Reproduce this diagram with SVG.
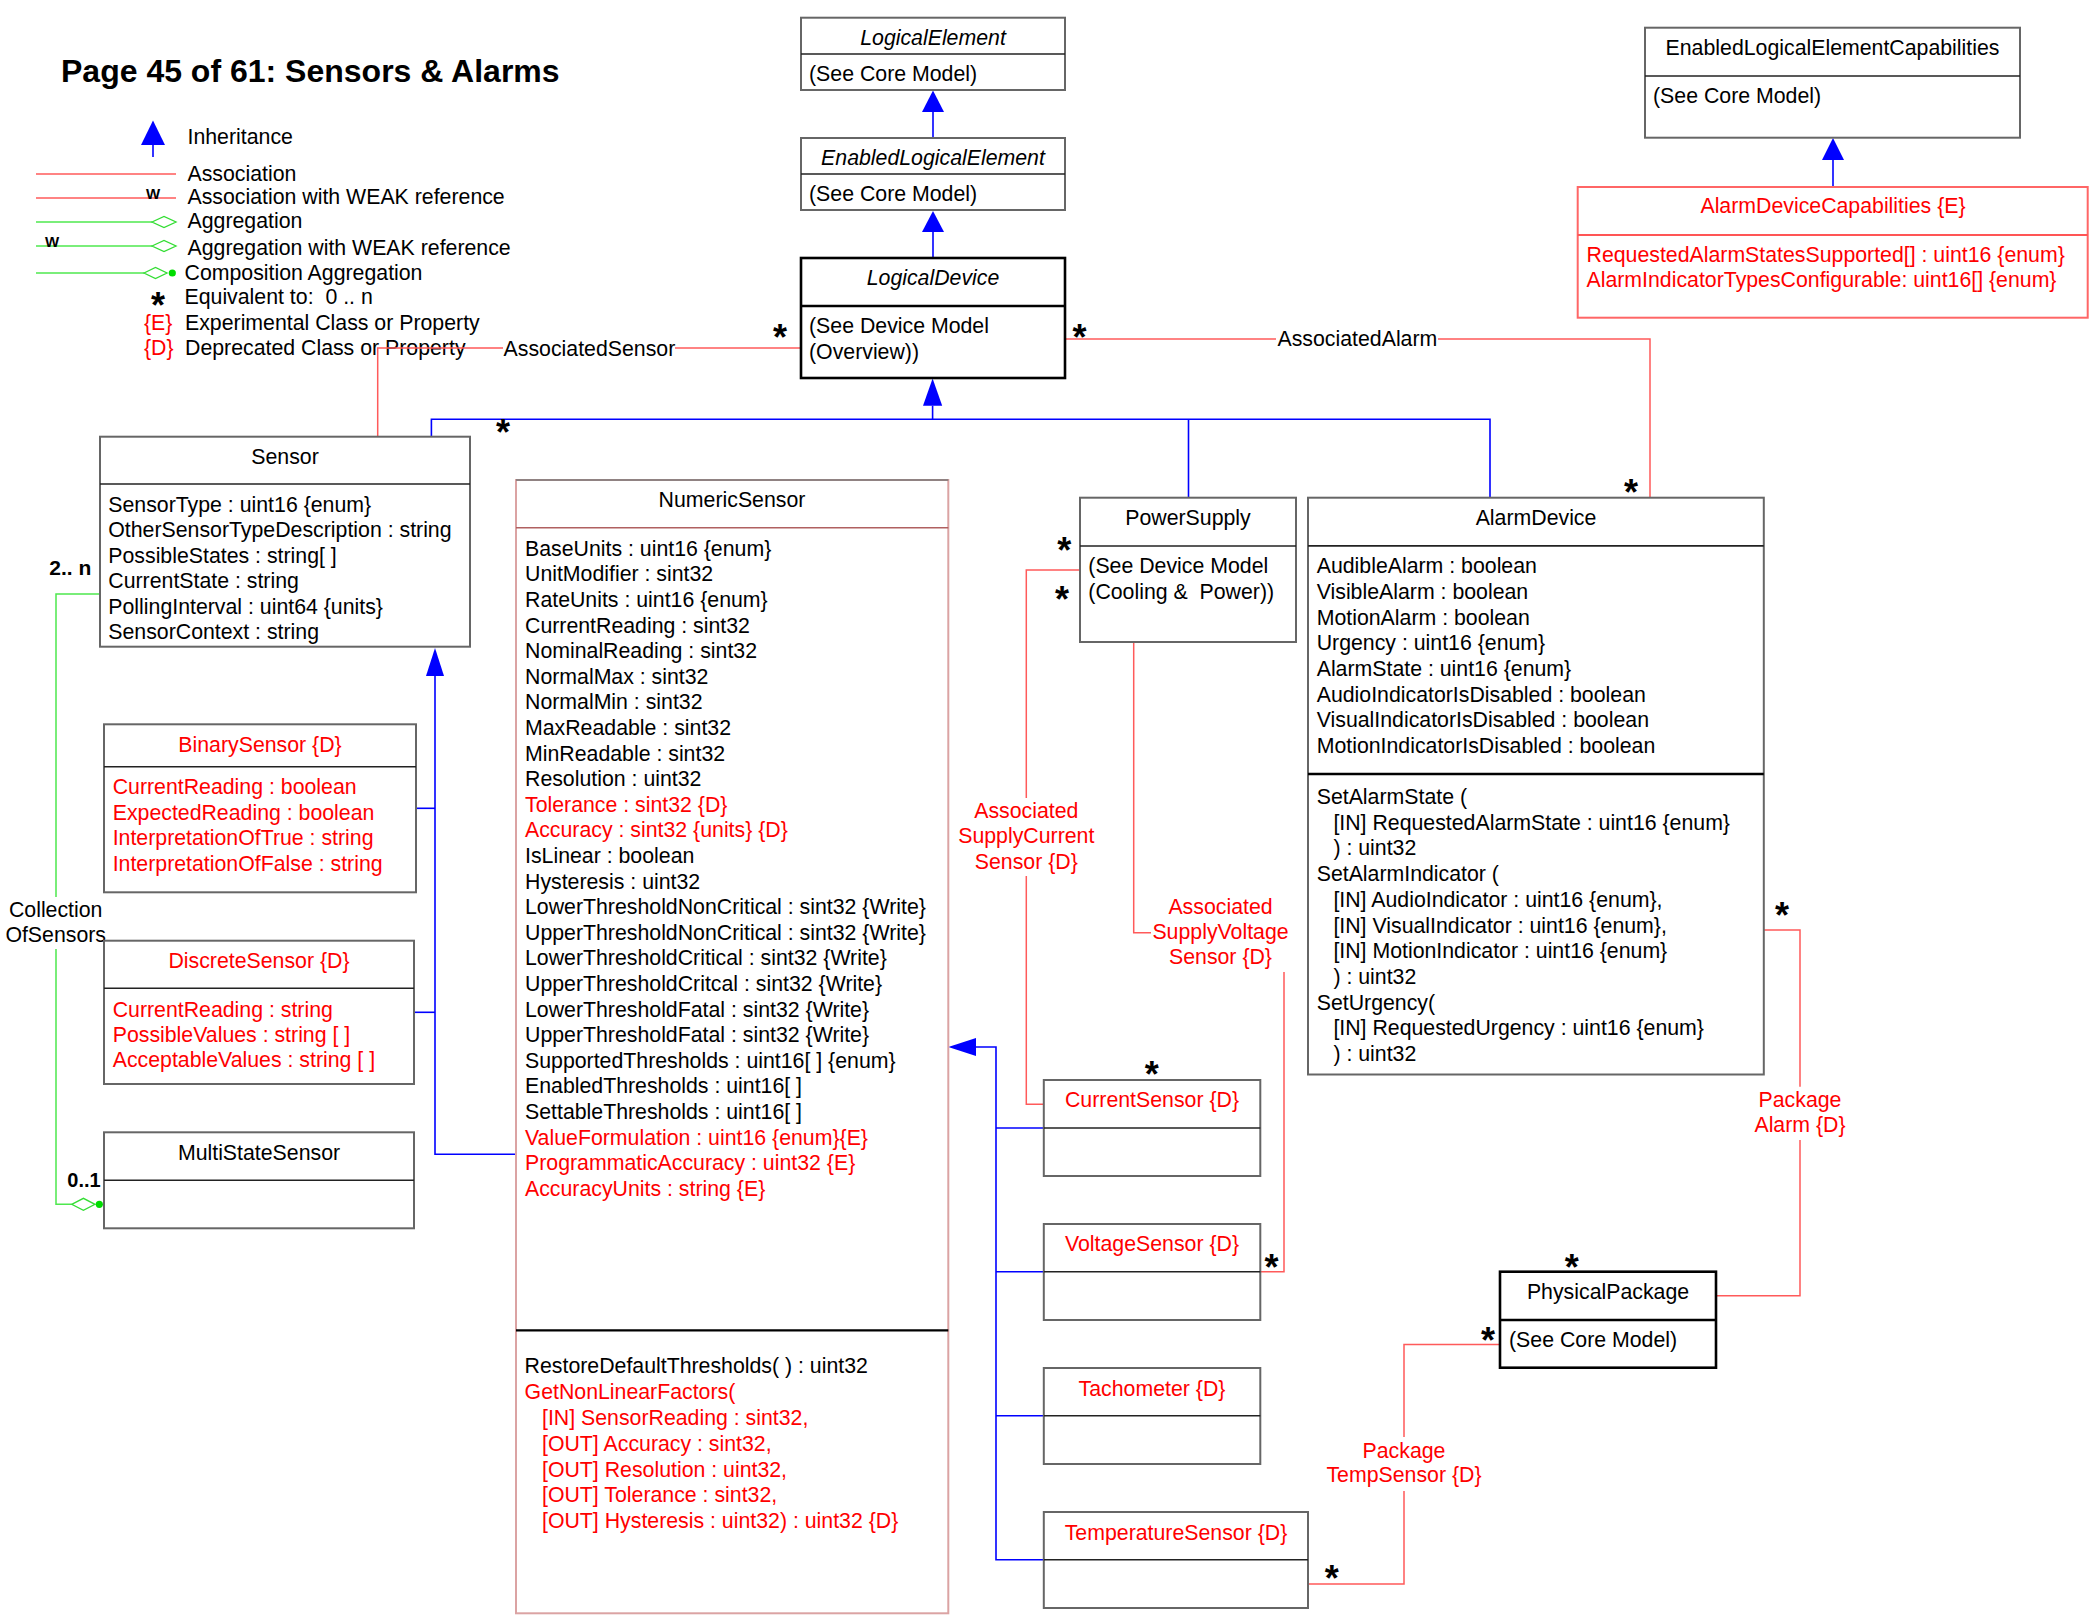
<svg xmlns="http://www.w3.org/2000/svg" width="2093" height="1617" viewBox="0 0 2093 1617">
<style>
text { font-family: "Liberation Sans", Arial, sans-serif; font-size: 21.3px; fill: #000; }
.r { fill: #ff0000; }
.c { text-anchor: middle; }
.i { font-style: italic; }
.title { font-size: 32px; font-weight: bold; }
.ast { font-size: 36px; font-weight: bold; text-anchor: middle; }
.b { font-weight: bold; }
.box { fill: #fff; stroke: #666; stroke-width: 2; }
.bold { fill: #fff; stroke: #000; stroke-width: 2.6; }
.rbox { fill: #fff; stroke: #ff6666; stroke-width: 2; }
.nbox { fill: #fff; stroke: #dba3a3; stroke-width: 2; }
.dv { stroke: #222; stroke-width: 1.6; fill: none; }
.dvb { stroke: #000; stroke-width: 2.6; fill: none; }
.dvr { stroke: #ff5555; stroke-width: 2; fill: none; }
.bl { stroke: #0000ff; stroke-width: 1.6; fill: none; }
.rd { stroke: #ff5a5a; stroke-width: 1.5; fill: none; }
.gr { stroke: #4ee84e; stroke-width: 1.5; fill: none; }
.ah { fill: #0000ff; stroke: none; }
.dia { fill: #fff; stroke: #33dd33; stroke-width: 1.3; }
.dot { fill: #00dd00; }
</style>

<g id="title">
<text class="title" x="61" y="82">Page 45 of 61: Sensors &amp; Alarms</text>
</g>

<g id="legend">
<line class="bl" x1="153" y1="145" x2="153" y2="157"/>
<polygon class="ah" points="153,120.5 141,145 165,145"/>
<text x="187.5" y="144">Inheritance</text>
<line class="rd" x1="36" y1="174" x2="176" y2="174"/>
<text x="187.5" y="180.5">Association</text>
<line class="rd" x1="36" y1="198" x2="176" y2="198"/>
<text class="b" x="146" y="199" style="font-size:15px">W</text>
<text x="187.5" y="204">Association with WEAK reference</text>
<line class="gr" x1="36" y1="222" x2="152" y2="222"/>
<polygon class="dia" points="152,222 164,216.5 176,222 164,227.5"/>
<text x="187.5" y="228">Aggregation</text>
<line class="gr" x1="36" y1="246" x2="152" y2="246"/>
<text class="b" x="45" y="246.5" style="font-size:15px">W</text>
<polygon class="dia" points="152,246 164,240.5 176,246 164,251.5"/>
<text x="187.5" y="255">Aggregation with WEAK reference</text>
<line class="gr" x1="36" y1="273" x2="144" y2="273"/>
<polygon class="dia" points="144,273 155.5,267.5 167,273 155.5,278.5"/>
<circle class="dot" cx="172.3" cy="273" r="3.6"/>
<text x="184.5" y="279.5">Composition Aggregation</text>
<text class="ast" x="158" y="318">*</text>
<text x="184.5" y="303.5" xml:space="preserve">Equivalent to:  0 .. n</text>
<text class="r" x="144" y="330">{E}</text>
<text x="185" y="330">Experimental Class or Property</text>
<text class="r" x="144" y="354.5">{D}</text>
<text x="185" y="354.5">Deprecated Class or Property</text>
</g>

<g id="connectors">
<!-- inheritance -->
<line class="bl" x1="933" y1="112" x2="933" y2="138"/>
<polygon class="ah" points="933,90.5 922,112 944,112"/>
<line class="bl" x1="933" y1="232" x2="933" y2="258"/>
<polygon class="ah" points="933,211 922,232 944,232"/>
<line class="bl" x1="1833" y1="160" x2="1833" y2="187"/>
<polygon class="ah" points="1833,138 1822,160 1844,160"/>
<polyline class="bl" points="431.4,436.7 431.4,419.3 1490,419.3 1490,497.7"/>
<line class="bl" x1="1188.5" y1="419.3" x2="1188.5" y2="497.7"/>
<line class="bl" x1="932.6" y1="405.7" x2="932.6" y2="419.3"/>
<polygon class="ah" points="932.6,378.5 923,405.7 942.2,405.7"/>
<polyline class="bl" points="435,676 435,1154.3 516,1154.3"/>
<line class="bl" x1="416" y1="808.3" x2="435" y2="808.3"/>
<line class="bl" x1="414" y1="1012.3" x2="435" y2="1012.3"/>
<polygon class="ah" points="435,648 426,676 444,676"/>
<polyline class="bl" points="976,1047 996,1047 996,1559.8 1043.8,1559.8"/>
<line class="bl" x1="996" y1="1128" x2="1043.8" y2="1128"/>
<line class="bl" x1="996" y1="1271.7" x2="1043.8" y2="1271.7"/>
<line class="bl" x1="996" y1="1415.7" x2="1043.8" y2="1415.7"/>
<polygon class="ah" points="948.3,1047 976,1038 976,1056"/>
<!-- AssociatedSensor -->
<line class="rd" x1="801" y1="348" x2="675" y2="348"/>
<polyline class="rd" points="503,348 377.7,348 377.7,436.7"/>
<text x="503.6" y="355.5">AssociatedSensor</text>
<text class="ast" x="780" y="350">*</text>
<text class="ast" x="503" y="445">*</text>
<!-- AssociatedAlarm -->
<line class="rd" x1="1065" y1="339" x2="1276" y2="339"/>
<polyline class="rd" points="1438,339 1650,339 1650,497.7"/>
<text x="1277.5" y="346">AssociatedAlarm</text>
<text class="ast" x="1079.5" y="350">*</text>
<text class="ast" x="1631" y="505">*</text>
<!-- AssociatedSupplyCurrentSensor -->
<polyline class="rd" points="1080,570 1026.3,570 1026.3,798"/>
<polyline class="rd" points="1026.3,876 1026.3,1104.3 1043.8,1104.3"/>
<text class="r c" x="1026.3" y="817.5">Associated</text>
<text class="r c" x="1026.3" y="843">SupplyCurrent</text>
<text class="r c" x="1026.3" y="868.5">Sensor {D}</text>
<text class="ast" x="1064.3" y="563.3">*</text>
<text class="ast" x="1062" y="611.7">*</text>
<text class="ast" x="1151.8" y="1087">*</text>
<!-- AssociatedSupplyVoltageSensor -->
<polyline class="rd" points="1133.7,642 1133.7,932.7 1151,932.7"/>
<polyline class="rd" points="1284,972 1284,1271.7 1260.3,1271.7"/>
<text class="r c" x="1220.5" y="914">Associated</text>
<text class="r c" x="1220.5" y="939">SupplyVoltage</text>
<text class="r c" x="1220.5" y="964">Sensor {D}</text>
<text class="ast" x="1271.4" y="1280">*</text>
<!-- PackageAlarm -->
<polyline class="rd" points="1764,930 1800,930 1800,1086.7"/>
<polyline class="rd" points="1800,1140 1800,1295.7 1716,1295.7"/>
<text class="r c" x="1800" y="1107">Package</text>
<text class="r c" x="1800" y="1132">Alarm {D}</text>
<text class="ast" x="1782" y="928.3">*</text>
<text class="ast" x="1571.7" y="1280">*</text>
<!-- PackageTempSensor -->
<polyline class="rd" points="1308,1583.9 1404,1583.9 1404,1491"/>
<polyline class="rd" points="1404,1437 1404,1344.5 1499.6,1344.5"/>
<text class="r c" x="1404" y="1457.5">Package</text>
<text class="r c" x="1404" y="1482.3">TempSensor {D}</text>
<text class="ast" x="1331.7" y="1591">*</text>
<text class="ast" x="1488" y="1352.7">*</text>
<!-- CollectionOfSensors -->
<polyline class="gr" points="100,594 56,594 56,897"/>
<polyline class="gr" points="56,949 56,1204.3 71.7,1204.3"/>
<polygon class="dia" points="71.7,1204.3 83.4,1198.3 95,1204.3 83.4,1210.3"/>
<circle class="dot" cx="99.3" cy="1204.3" r="3.6"/>
<text class="c" x="55.7" y="916.7">Collection</text>
<text class="c" x="55.7" y="941.7">OfSensors</text>
<text class="b" x="49.3" y="575" style="font-size:21px">2.. n</text>
<text class="b" x="67.3" y="1186.7" style="font-size:20px">0..1</text>
</g>

<g id="LogicalElement">
<rect class="box" x="801" y="17.7" width="264" height="72.3"/>
<line class="dv" x1="801" y1="54" x2="1065" y2="54"/>
<text class="c i" x="933" y="45">LogicalElement</text>
<text x="809" y="81">(See Core Model)</text>
</g>

<g id="EnabledLogicalElement">
<rect class="box" x="801" y="138" width="264" height="72"/>
<line class="dv" x1="801" y1="174" x2="1065" y2="174"/>
<text class="c i" x="933" y="165">EnabledLogicalElement</text>
<text x="809" y="201">(See Core Model)</text>
</g>

<g id="LogicalDevice">
<rect class="bold" x="801" y="258" width="264" height="120"/>
<line class="dvb" x1="801" y1="306" x2="1065" y2="306"/>
<text class="c i" x="933" y="285">LogicalDevice</text>
<text x="809" y="333">(See Device Model</text>
<text x="809" y="359">(Overview))</text>
</g>

<g id="EnabledLogicalElementCapabilities">
<rect class="box" x="1645" y="27.7" width="375" height="110"/>
<line class="dv" x1="1645" y1="76" x2="2020" y2="76"/>
<text class="c" x="1832.5" y="55">EnabledLogicalElementCapabilities</text>
<text x="1653" y="102.7">(See Core Model)</text>
</g>

<g id="AlarmDeviceCapabilities">
<rect class="rbox" x="1577.7" y="187" width="510" height="130.7"/>
<line class="dvr" x1="1577.7" y1="235" x2="2087.7" y2="235"/>
<text class="r c" x="1833" y="213">AlarmDeviceCapabilities {E}</text>
<text class="r" x="1586.5" y="261.7">RequestedAlarmStatesSupported[] : uint16 {enum}</text>
<text class="r" x="1586.5" y="287.3">AlarmIndicatorTypesConfigurable: uint16[] {enum}</text>
</g>

<g id="Sensor">
<rect class="box" x="100" y="436.7" width="370" height="210"/>
<line class="dv" x1="100" y1="484" x2="470" y2="484"/>
<text class="c" x="285" y="464">Sensor</text>
<text x="108.3" y="511.7">SensorType : uint16 {enum}</text>
<text x="108.3" y="537.2">OtherSensorTypeDescription : string</text>
<text x="108.3" y="562.7">PossibleStates : string[ ]</text>
<text x="108.3" y="588.2">CurrentState : string</text>
<text x="108.3" y="613.7">PollingInterval : uint64 {units}</text>
<text x="108.3" y="639.2">SensorContext : string</text>
</g>

<g id="BinarySensor">
<rect class="box" x="104" y="724.3" width="312" height="168"/>
<line class="dv" x1="104" y1="766.7" x2="416" y2="766.7"/>
<text class="r c" x="260" y="751.7">BinarySensor {D}</text>
<text class="r" x="112.7" y="794">CurrentReading : boolean</text>
<text class="r" x="112.7" y="819.5">ExpectedReading : boolean</text>
<text class="r" x="112.7" y="845">InterpretationOfTrue : string</text>
<text class="r" x="112.7" y="870.5">InterpretationOfFalse : string</text>
</g>

<g id="DiscreteSensor">
<rect class="box" x="104" y="940.7" width="310" height="143.3"/>
<line class="dv" x1="104" y1="988.3" x2="414" y2="988.3"/>
<text class="r c" x="259" y="968.3">DiscreteSensor {D}</text>
<text class="r" x="112.7" y="1016.7">CurrentReading : string</text>
<text class="r" x="112.7" y="1042">PossibleValues : string [ ]</text>
<text class="r" x="112.7" y="1067.3">AcceptableValues : string [ ]</text>
</g>

<g id="MultiStateSensor">
<rect class="box" x="104" y="1132.3" width="310" height="96"/>
<line class="dv" x1="104" y1="1180.3" x2="414" y2="1180.3"/>
<text class="c" x="259" y="1160">MultiStateSensor</text>
</g>

<g id="NumericSensor">
<rect class="nbox" x="516" y="480" width="432.3" height="1133.3"/>
<line class="dv" x1="516" y1="480" x2="948.3" y2="480" style="stroke:#777"/>
<line class="dv" x1="516" y1="527.7" x2="948.3" y2="527.7" style="stroke:#b06060"/>
<line class="dvb" x1="516" y1="1330.3" x2="948.3" y2="1330.3" style="stroke-width:2.2"/>
<text class="c" x="732" y="507">NumericSensor</text>
<text x="525" y="555.8">BaseUnits : uint16 {enum}</text>
<text x="525" y="581.4">UnitModifier : sint32</text>
<text x="525" y="607">RateUnits : uint16 {enum}</text>
<text x="525" y="632.6">CurrentReading : sint32</text>
<text x="525" y="658.2">NominalReading : sint32</text>
<text x="525" y="683.8">NormalMax : sint32</text>
<text x="525" y="709.4">NormalMin : sint32</text>
<text x="525" y="735">MaxReadable : sint32</text>
<text x="525" y="760.6">MinReadable : sint32</text>
<text x="525" y="786.2">Resolution : uint32</text>
<text class="r" x="525" y="811.8">Tolerance : sint32 {D}</text>
<text class="r" x="525" y="837.4">Accuracy : sint32 {units} {D}</text>
<text x="525" y="863">IsLinear : boolean</text>
<text x="525" y="888.6">Hysteresis : uint32</text>
<text x="525" y="914.2">LowerThresholdNonCritical : sint32 {Write}</text>
<text x="525" y="939.8">UpperThresholdNonCritical : sint32 {Write}</text>
<text x="525" y="965.4">LowerThresholdCritical : sint32 {Write}</text>
<text x="525" y="991">UpperThresholdCritcal : sint32 {Write}</text>
<text x="525" y="1016.6">LowerThresholdFatal : sint32 {Write}</text>
<text x="525" y="1042.2">UpperThresholdFatal : sint32 {Write}</text>
<text x="525" y="1067.8">SupportedThresholds : uint16[ ] {enum}</text>
<text x="525" y="1093.4">EnabledThresholds : uint16[ ]</text>
<text x="525" y="1119">SettableThresholds : uint16[ ]</text>
<text class="r" x="525" y="1144.6">ValueFormulation : uint16 {enum}{E}</text>
<text class="r" x="525" y="1170.2">ProgrammaticAccuracy : uint32 {E}</text>
<text class="r" x="525" y="1195.8">AccuracyUnits : string {E}</text>
<text x="524.6" y="1373.3">RestoreDefaultThresholds( ) : uint32</text>
<text class="r" x="524.6" y="1399.3">GetNonLinearFactors(</text>
<text class="r" x="542" y="1425.3">[IN] SensorReading : sint32,</text>
<text class="r" x="542" y="1451">[OUT] Accuracy : sint32,</text>
<text class="r" x="542" y="1476.7">[OUT] Resolution : uint32,</text>
<text class="r" x="542" y="1502.3">[OUT] Tolerance : sint32,</text>
<text class="r" x="542" y="1528">[OUT] Hysteresis : uint32) : uint32 {D}</text>
</g>

<g id="PowerSupply">
<rect class="box" x="1080" y="497.7" width="216" height="144.3"/>
<line class="dv" x1="1080" y1="546" x2="1296" y2="546"/>
<text class="c" x="1188" y="525">PowerSupply</text>
<text x="1088.3" y="573.3">(See Device Model</text>
<text x="1088.3" y="599.3" xml:space="preserve">(Cooling &amp;  Power))</text>
</g>

<g id="AlarmDevice">
<rect class="box" x="1308" y="497.7" width="455.8" height="576.8"/>
<line class="dv" x1="1308" y1="545.9" x2="1763.8" y2="545.9"/>
<line class="dvb" x1="1308" y1="774" x2="1763.8" y2="774"/>
<text class="c" x="1536" y="524.7">AlarmDevice</text>
<text x="1316.7" y="573.2">AudibleAlarm : boolean</text>
<text x="1316.7" y="598.9">VisibleAlarm : boolean</text>
<text x="1316.7" y="624.6">MotionAlarm : boolean</text>
<text x="1316.7" y="650.3">Urgency : uint16 {enum}</text>
<text x="1316.7" y="676">AlarmState : uint16 {enum}</text>
<text x="1316.7" y="701.7">AudioIndicatorIsDisabled : boolean</text>
<text x="1316.7" y="727.4">VisualIndicatorIsDisabled : boolean</text>
<text x="1316.7" y="753.1">MotionIndicatorIsDisabled : boolean</text>
<text x="1316.7" y="804">SetAlarmState (</text>
<text x="1333.4" y="829.7">[IN] RequestedAlarmState : uint16 {enum}</text>
<text x="1333.4" y="855.4">) : uint32</text>
<text x="1316.7" y="881.1">SetAlarmIndicator (</text>
<text x="1333.4" y="906.8">[IN] AudioIndicator : uint16 {enum},</text>
<text x="1333.4" y="932.5">[IN] VisualIndicator : uint16 {enum},</text>
<text x="1333.4" y="958.2">[IN] MotionIndicator : uint16 {enum}</text>
<text x="1333.4" y="983.9">) : uint32</text>
<text x="1316.7" y="1009.6">SetUrgency(</text>
<text x="1333.4" y="1035.3">[IN] RequestedUrgency : uint16 {enum}</text>
<text x="1333.4" y="1061">) : uint32</text>
</g>

<g id="CurrentSensor">
<rect class="box" x="1043.8" y="1080" width="216.5" height="96"/>
<line class="dv" x1="1043.8" y1="1128" x2="1260.3" y2="1128"/>
<text class="r c" x="1152" y="1107">CurrentSensor {D}</text>
</g>

<g id="VoltageSensor">
<rect class="box" x="1043.8" y="1224" width="216.5" height="96"/>
<line class="dv" x1="1043.8" y1="1271.7" x2="1260.3" y2="1271.7"/>
<text class="r c" x="1152" y="1251">VoltageSensor {D}</text>
</g>

<g id="Tachometer">
<rect class="box" x="1043.8" y="1368" width="216.5" height="96"/>
<line class="dv" x1="1043.8" y1="1415.7" x2="1260.3" y2="1415.7"/>
<text class="r c" x="1152" y="1395.7">Tachometer {D}</text>
</g>

<g id="TemperatureSensor">
<rect class="box" x="1043.8" y="1512" width="264.2" height="96"/>
<line class="dv" x1="1043.8" y1="1559.8" x2="1308" y2="1559.8"/>
<text class="r c" x="1176" y="1540">TemperatureSensor {D}</text>
</g>

<g id="PhysicalPackage">
<rect class="bold" x="1500" y="1271.7" width="216" height="96"/>
<line class="dvb" x1="1500" y1="1320" x2="1716" y2="1320"/>
<text class="c" x="1608" y="1299.3">PhysicalPackage</text>
<text x="1509" y="1346.7">(See Core Model)</text>
</g>
</svg>
